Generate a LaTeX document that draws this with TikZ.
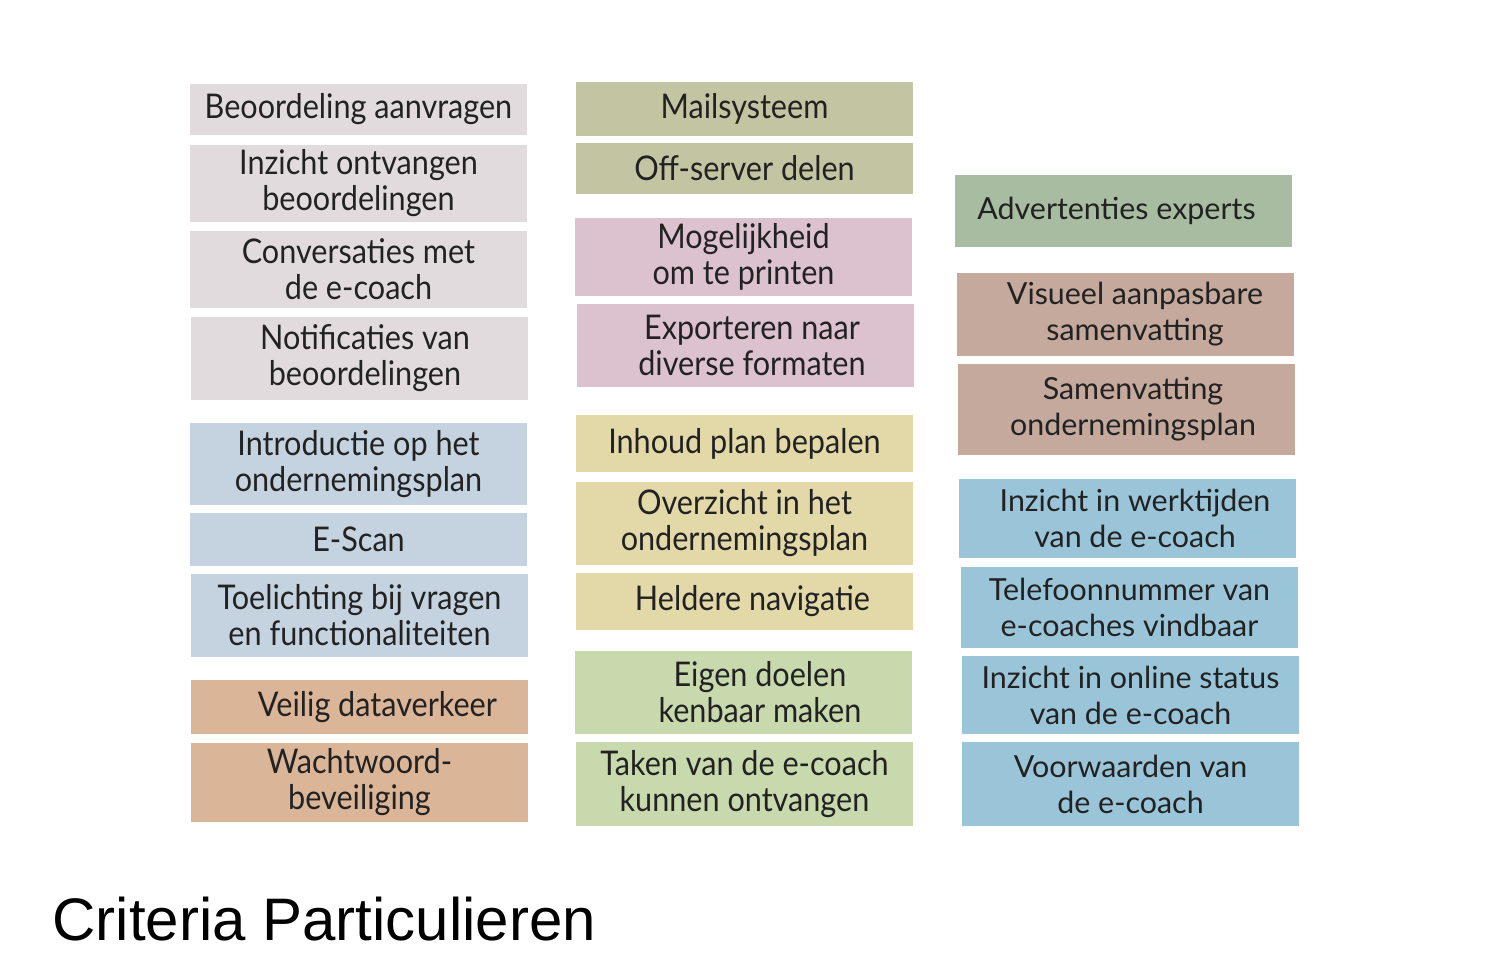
\documentclass[tikz,border=0pt]{standalone}
\usepackage{fontspec}
\setmainfont{Lato}
\newfontfamily\smalfont[FakeStretch=0.9]{Lato}
\newfontfamily\titelfont{Liberation Sans}

\definecolor{grijs}{HTML}{E2DBDE}
\definecolor{blauwgrijs}{HTML}{C4D3DF}
\definecolor{perzik}{HTML}{DBB598}
\definecolor{olijf}{HTML}{C3C5A2}
\definecolor{roze}{HTML}{DCC1CF}
\definecolor{geel}{HTML}{E2D8A8}
\definecolor{groen}{HTML}{C8D9AD}
\definecolor{salie}{HTML}{A8BCA2}
\definecolor{bruin}{HTML}{C4A99C}
\definecolor{blauw}{HTML}{9AC4D8}
\definecolor{tekst}{HTML}{222222}

\tikzset{
    crit/.style={inner sep=0pt, align=center, text=tekst, minimum width=168.5pt,
        font=\smalfont\fontsize{17}{18}\selectfont},
    critbreed/.style={crit, font=\fontsize{15.2}{18}\selectfont}
}

\begin{document}
\begin{tikzpicture}[x=0.5pt,y=-0.5pt]
    \useasboundingbox (0,0) rectangle (1500,980);

    % Kolom 1
    \node[crit, fill=grijs, minimum height=25.5pt] (aanvragen) at (358.5,109.5) {Beoordeling aanvragen};
    \node[crit, fill=grijs, minimum height=38.5pt] (ontvangen) at (358.5,183.5) {Inzicht ontvangen\\beoordelingen};
    \node[crit, fill=grijs, minimum height=38.5pt] (conversaties) at (358.5,269.5) {Conversaties met\\de e-coach};
    \node[crit, fill=grijs, minimum height=41.5pt] (notificaties) at (359.5,358.5) {\hspace{5.5pt}Notificaties van\\\hspace{5.5pt}beoordelingen};
    \node[crit, fill=blauwgrijs, minimum height=41pt] (introductie) at (358.5,464) {Introductie op het\\ondernemingsplan};
    \node[crit, fill=blauwgrijs, minimum height=26.5pt] (escan) at (358.5,539.5) {E-Scan};
    \node[crit, fill=blauwgrijs, minimum height=41.5pt] (toelichting) at (359.5,615.5) {Toelichting bij vragen\\en functionaliteiten};
    \node[crit, fill=perzik, minimum height=27pt] (dataverkeer) at (359.5,707) {\hspace{18pt}Veilig dataverkeer};
    \node[crit, fill=perzik, minimum height=39.5pt] (wachtwoord) at (359.5,782.5) {Wachtwoord-\\beveiliging};

    % Kolom 2
    \node[crit, fill=olijf, minimum height=27pt] (mail) at (744.5,109) {Mailsysteem};
    \node[crit, fill=olijf, minimum height=25.5pt] (offserver) at (744.5,168.5) {Off-server delen};
    \node[crit, fill=roze, minimum height=39pt] (printen) at (743.5,257) {Mogelijkheid\\om te printen};
    \node[crit, fill=roze, minimum height=41.5pt] (exporteren) at (745.5,345.5) {\hspace{6.5pt}Exporteren naar\\\hspace{6.5pt}diverse formaten};
    \node[crit, fill=geel, minimum height=28.5pt] (inhoud) at (744.5,443.5) {Inhoud plan bepalen};
    \node[crit, fill=geel, minimum height=41.5pt] (overzicht) at (744.5,523.5) {Overzicht in het\hspace{4.5pt}\\ondernemingsplan\hspace{4.5pt}};
    \node[crit, fill=geel, minimum height=28.5pt] (navigatie) at (744.5,601.5) {\hspace{8pt}Heldere navigatie};
    \node[crit, fill=groen, minimum height=41.5pt] (doelen) at (743.5,692.5) {\hspace{16.5pt}Eigen doelen\\\hspace{16.5pt}kenbaar maken};
    \node[crit, fill=groen, minimum height=42pt] (taken) at (744.5,784) {Taken van de e-coach\\kunnen ontvangen};

    % Kolom 3
    \node[critbreed, fill=salie, minimum height=36pt] (advertenties) at (1123.5,211) {Advertenties experts\hspace{7pt}};
    \node[critbreed, fill=bruin, minimum height=41.5pt] (visueel) at (1125.5,314.5) {\hspace{9.5pt}Visueel aanpasbare\\\hspace{9.5pt}samenvatting};
    \node[critbreed, fill=bruin, minimum height=45.5pt] (samenvatting) at (1126.5,409.5) {\hspace{6.5pt}Samenvatting\\\hspace{6.5pt}ondernemingsplan};
    \node[critbreed, fill=blauw, minimum height=39.5pt] (werktijden) at (1127.5,518.5) {\hspace{7.5pt}Inzicht in werktijden\\\hspace{7.5pt}van de e-coach};
    \node[critbreed, fill=blauw, minimum height=40.5pt] (telefoon) at (1129.5,607.5) {Telefoonnummer van\\e-coaches vindbaar};
    \node[critbreed, fill=blauw, minimum height=39pt] (status) at (1130.5,695) {Inzicht in online status\\van de e-coach};
    \node[critbreed, fill=blauw, minimum height=42pt] (voorwaarden) at (1130.5,784) {Voorwaarden van\\de e-coach};

    % Titel
    \node[anchor=base west, inner sep=0pt, font=\titelfont\fontsize{30}{36}\selectfont] (titel) at (52,940) {Criteria Particulieren};
\end{tikzpicture}
\end{document}
